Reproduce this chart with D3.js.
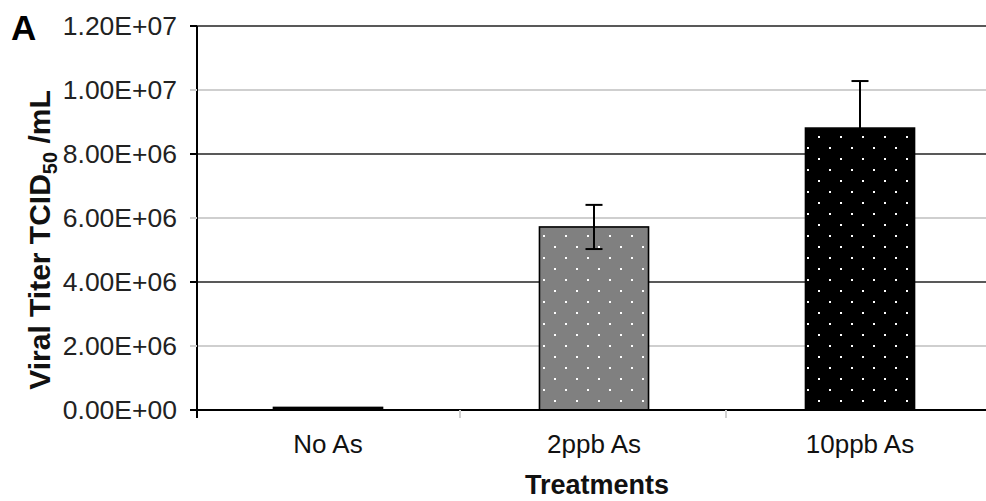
<!DOCTYPE html>
<html>
<head>
<meta charset="utf-8">
<script src="https://cdn.jsdelivr.net/npm/d3@7"></script>
<style>
  body { margin: 0; background: #fff; }
  svg { display: block; font-family: "Liberation Sans", Arial, sans-serif; }
</style>
</head>
<body>
<div id="chart"></div>
<script>
var treatments = ["No As", "2ppb As", "10ppb As"];
var titers = [80000, 5720000, 8810000];
var errors = [0, 690000, 1470000];
var barFills = ["#000000", "#808080", "#000000"];
var yTicks = [0, 2e6, 4e6, 6e6, 8e6, 1e7, 1.2e7];
var majorTicks = [0, 4e6, 8e6, 1.2e7];

const w = 986;
const h = 501;
const plotLeft = 197;
const plotRight = 995;
const plotTop = 26;
const plotBottom = 410;

const svg = d3.select("#chart")
    .append("svg")
    .attr("width", w)
    .attr("height", h);

// dot patterns for the bars
const defs = svg.append("defs");
barFills.forEach(function (c, i) {
    var p = defs.append("pattern")
        .attr("id", "dots" + i)
        .attr("patternUnits", "userSpaceOnUse")
        .attr("width", 22)
        .attr("height", 22);
    p.append("rect").attr("width", 22).attr("height", 22).attr("fill", c);
    p.append("rect").attr("x", 4).attr("y", 4).attr("width", 2).attr("height", 2).attr("fill", "#fff");
    p.append("rect").attr("x", 15).attr("y", 15).attr("width", 2).attr("height", 2).attr("fill", "#fff");
});

const xScale = d3.scaleBand()
    .domain(treatments)
    .range([plotLeft, plotRight]);

const yScale = d3.scaleLinear()
    .domain([0, 1.2e7])
    .range([plotBottom, plotTop]);

const isMajor = (d) => majorTicks.includes(d);
const center = (i) => xScale(treatments[i]) + xScale.bandwidth() / 2 - 2;

// gridlines
svg.append("g")
    .selectAll("line")
    .data(yTicks.filter((d) => d > 0))
    .enter()
    .append("line")
    .attr("x1", plotLeft - 7)
    .attr("x2", w)
    .attr("y1", (d) => yScale(d))
    .attr("y2", (d) => yScale(d))
    .attr("stroke", (d) => isMajor(d) ? "#222" : "#cfcfcf")
    .attr("stroke-width", (d) => isMajor(d) ? 1.6 : 2);

// y tick labels
const yAxis = d3.axisLeft(yScale)
    .tickValues(yTicks)
    .tickSize(0)
    .tickPadding(20)
    .tickFormat((d) => {
        var e = d === 0 ? 0 : Math.floor(Math.log10(d));
        var m = d === 0 ? 0 : d / Math.pow(10, e);
        return m.toFixed(2) + "E+" + (e < 10 ? "0" : "") + e;
    });

svg.append("g")
    .attr("id", "y-axis")
    .attr("transform", "translate(" + plotLeft + ",0)")
    .call(yAxis)
    .call((g) => g.select(".domain").remove())
    .selectAll("text")
    .attr("font-size", 26.5)
    .attr("font-family", "Liberation Sans, Arial, sans-serif")
    .attr("fill", "#222");

// bars
const barW = xScale.bandwidth() * 0.41;
svg.append("g")
    .selectAll("rect")
    .data(titers)
    .enter()
    .append("rect")
    .attr("x", (d, i) => center(i) - barW / 2)
    .attr("y", (d) => yScale(d))
    .attr("width", barW)
    .attr("height", (d) => plotBottom - yScale(d))
    .attr("fill", (d, i) => "url(#dots" + i + ")")
    .attr("stroke", "#000")
    .attr("stroke-width", 1.6);

// error bars
const errData = titers.map((d, i) => ({ i: i, lo: d - errors[i], hi: d + errors[i] }))
    .filter((d) => errors[d.i] > 0);

const err = svg.append("g")
    .selectAll("g")
    .data(errData)
    .enter()
    .append("g")
    .attr("transform", (d) => "translate(" + center(d.i) + ",0)");

err.append("line")
    .attr("y1", (d) => yScale(d.lo))
    .attr("y2", (d) => yScale(d.hi))
    .attr("stroke", "#000")
    .attr("stroke-width", 2);

err.selectAll("line.cap")
    .data((d) => [d.lo, d.hi])
    .enter()
    .append("line")
    .attr("class", "cap")
    .attr("x1", -8.5)
    .attr("x2", 8.5)
    .attr("y1", (d) => yScale(d))
    .attr("y2", (d) => yScale(d))
    .attr("stroke", "#000")
    .attr("stroke-width", 2);

// y axis line and ticks
svg.append("line")
    .attr("x1", plotLeft).attr("x2", plotLeft)
    .attr("y1", plotTop).attr("y2", plotBottom + 8)
    .attr("stroke", "#000")
    .attr("stroke-width", 2);

svg.append("g")
    .selectAll("line")
    .data(yTicks)
    .enter()
    .append("line")
    .attr("x1", plotLeft - 7)
    .attr("x2", plotLeft)
    .attr("y1", (d) => yScale(d))
    .attr("y2", (d) => yScale(d))
    .attr("stroke", (d) => isMajor(d) ? "#000" : "#cfcfcf")
    .attr("stroke-width", 2);

// x axis
svg.append("line")
    .attr("x1", plotLeft - 7).attr("x2", w)
    .attr("y1", plotBottom).attr("y2", plotBottom)
    .attr("stroke", "#000")
    .attr("stroke-width", 2);

svg.append("g")
    .selectAll("line")
    .data(treatments.slice(1))
    .enter()
    .append("line")
    .attr("x1", (d) => xScale(d) - 3)
    .attr("x2", (d) => xScale(d) - 3)
    .attr("y1", plotBottom)
    .attr("y2", plotBottom + 8)
    .attr("stroke", "#d0d0d0")
    .attr("stroke-width", 2);

svg.append("g")
    .selectAll("text")
    .data(treatments)
    .enter()
    .append("text")
    .attr("x", (d, i) => center(i))
    .attr("y", 453)
    .attr("text-anchor", "middle")
    .attr("font-size", 26)
    .attr("fill", "#111")
    .text((d) => d);

// axis titles
svg.append("text")
    .attr("x", 597)
    .attr("y", 494)
    .attr("text-anchor", "middle")
    .attr("font-size", 27)
    .attr("font-weight", "bold")
    .attr("fill", "#111")
    .text("Treatments");

const yTitle = svg.append("text")
    .attr("transform", "translate(50,240) rotate(-90)")
    .attr("text-anchor", "middle")
    .attr("font-size", 30)
    .attr("font-weight", "bold")
    .attr("fill", "#111");
yTitle.append("tspan").text("Viral Titer TCID");
yTitle.append("tspan").attr("font-size", 20).attr("dy", 7).text("50");
yTitle.append("tspan").attr("dy", -7).text(" /mL");

svg.append("text")
    .attr("x", 11)
    .attr("y", 40)
    .attr("font-size", 35)
    .attr("font-weight", "bold")
    .attr("fill", "#000")
    .text("A");
</script>
</body>
</html>
